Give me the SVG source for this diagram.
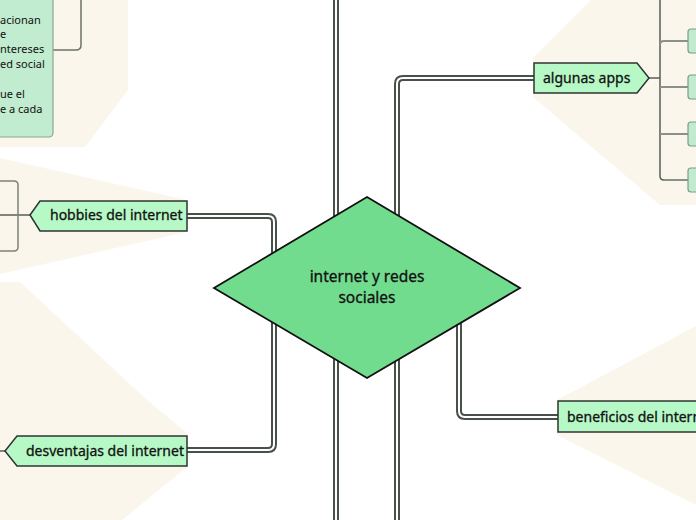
<svg xmlns="http://www.w3.org/2000/svg" width="696" height="520" viewBox="0 0 696 520">
<style>
.bg{fill:#faf6ec}
.dbl-o{fill:none;stroke:#47514a;stroke-width:6;stroke-linejoin:round}
.dbl-i{fill:none;stroke:#ffffff;stroke-width:2;stroke-linejoin:round}
.topic{fill:#b6f8c6;stroke:#2f3430;stroke-width:1.5}
.sub{fill:#c0ebcf;stroke:#7f9c88;stroke-width:1.2}
.br{fill:none;stroke:#575e56;stroke-width:1.5}
.tw{fill:none;stroke:#8b9186;stroke-width:2}
.t{font-family:"Noto Sans","Open Sans",sans-serif;font-size:14px;fill:#111;stroke:#111;stroke-width:0.3}
.s{font-family:"Noto Sans","Open Sans",sans-serif;font-size:11px;fill:#111}
</style>
<rect width="696" height="520" fill="#ffffff"/>
<g id="backgrounds">
<polygon class="bg" points="0,0 128,0 128,90 85,147 0,147"/>
<polygon class="bg" points="0,158 187,200 187,232 0,274"/>
<polygon class="bg" points="0,282 20,282 147,400 187,433 187,467 122,520 0,520"/>
<polygon class="bg" points="533,58 591,0 696,0 696,205 660,205 533,97"/>
<polygon class="bg" points="557,400 696,326 696,505 557,435"/>
</g>
<g id="connectors">
<path class="dbl-o" d="M336,0 V520"/>
<path class="dbl-i" d="M336,0 V520"/>
<path class="dbl-o" d="M534,78 H403 Q397,78 397,84 V520"/>
<path class="dbl-i" d="M534,78 H403 Q397,78 397,84 V520"/>
<path class="dbl-o" d="M187,216 H268 Q274,216 274,222 V444 Q274,450 268,450 H187"/>
<path class="dbl-i" d="M187,216 H268 Q274,216 274,222 V444 Q274,450 268,450 H187"/>
<path class="dbl-o" d="M459,310 V411 Q459,417 465,417 H558"/>
<path class="dbl-i" d="M459,310 V411 Q459,417 465,417 H558"/>
<path class="br" d="M649,78 H660"/>
<path class="br" d="M660,0 V176 Q660,180 664,180"/>
<path class="tw" d="M660,45 Q660,41 664,41 H688"/>
<path class="tw" d="M660,87 H688"/>
<path class="tw" d="M660,134 H688"/>
<path class="tw" d="M664,180 H688"/>
<path class="br" d="M0,215 H30"/>
<path class="tw" d="M0,181 H14 Q18,181 18,185 V247 Q18,251 14,251 H0" style="stroke:#7d8279;stroke-width:1.5"/>
<path class="br" d="M0,451 H5"/>
<path class="tw" d="M81,0 V45 Q81,50 76,50 H53" style="stroke:#6d7369;stroke-width:1.5"/>
</g>
<g id="center">
<polygon points="367,197 520,288 367,378 214,288" fill="#72dc8e" stroke="#111" stroke-width="1.8"/>
<text class="t" x="367" y="282" text-anchor="middle" style="font-size:15.5px">internet y redes</text>
<text class="t" x="367" y="303" text-anchor="middle" style="font-size:15.5px">sociales</text>
</g>
<g id="hobbies">
<polygon class="topic" points="30,215 40,201 187,201 187,231 40,231"/>
<text class="t" x="50" y="220">hobbies del internet</text>
</g>
<g id="desventajas">
<polygon class="topic" points="5,451 17,436 187,436 187,466 17,466"/>
<text class="t" x="26" y="456">desventajas del internet</text>
</g>
<g id="apps">
<polygon class="topic" points="534,63 637,63 649,78 637,93 534,93"/>
<text class="t" x="543" y="83">algunas apps</text>
</g>
<g id="app1"><rect class="sub" x="688" y="29" width="30" height="24" rx="3"/></g>
<g id="app2"><rect class="sub" x="688" y="75" width="30" height="24" rx="3"/></g>
<g id="app3"><rect class="sub" x="688" y="122" width="30" height="24" rx="3"/></g>
<g id="app4"><rect class="sub" x="688" y="168" width="30" height="24" rx="3"/></g>
<g id="beneficios">
<rect class="topic" x="558" y="401" width="160" height="31"/>
<text class="t" x="567" y="422">beneficios del internet</text>
</g>
<g id="note">
<rect x="-10" y="-10" width="63" height="147" rx="4" fill="#c1ecd0" stroke="#8aa890" stroke-width="1.2"/>
<text class="s" x="0" y="24">acionan</text>
<text class="s" x="0" y="38">e</text>
<text class="s" x="0" y="53">ntereses</text>
<text class="s" x="0" y="68">ed social</text>
<text class="s" x="0" y="98">ue el</text>
<text class="s" x="0" y="113">e a cada</text>
</g>
</svg>
